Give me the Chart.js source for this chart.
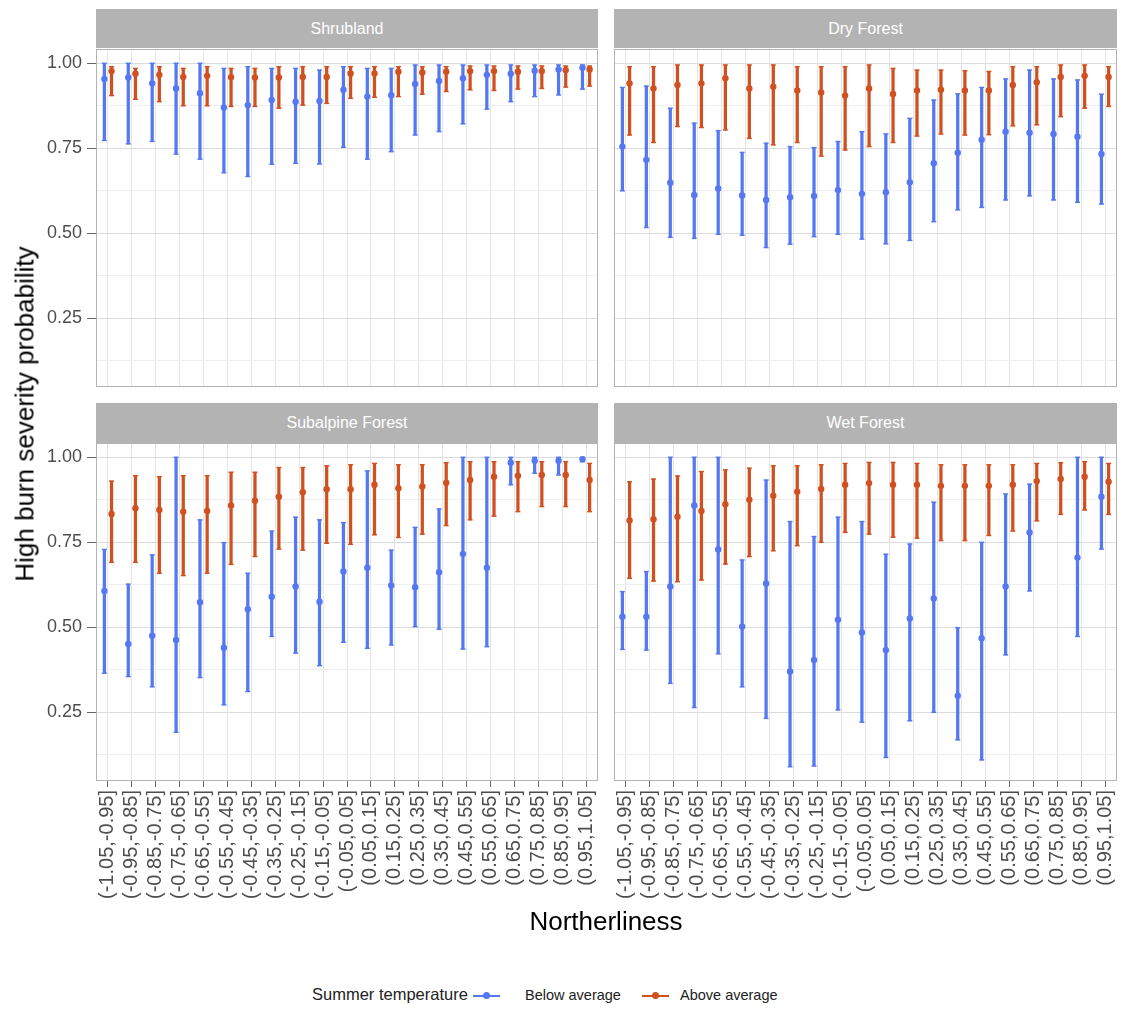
<!DOCTYPE html>
<html>
<head>
<meta charset="utf-8">
<script src="https://cdn.jsdelivr.net/npm/chart.js@4.4.1/dist/chart.umd.min.js"></script>
<style>
  body { margin: 0; background: #fff; font-family: "Liberation Sans", Arial, sans-serif; }
  #wrap { position: relative; width: 1126px; height: 1017px; overflow: hidden; }
  canvas { position: absolute; }
  .strip { position: absolute; background: #B3B3B3; color: #fff; font-size: 16px;
           display: flex; align-items: center; justify-content: center; }
  .title { position: absolute; font-size: 26px; color: #000; white-space: nowrap; }
  .leg { position: absolute; white-space: nowrap; color: #222; }
  .key { position: absolute; width: 27px; height: 2px; }
  .key::after { content: ""; position: absolute; left: 10px; top: -3px; width: 7px; height: 7px; border-radius: 50%; background: inherit; }
</style>
</head>
<body>
<div id="wrap">
  <div class="strip" style="left:96px;top:9px;width:502px;height:39px">Shrubland</div>
  <div class="strip" style="left:614px;top:9px;width:503px;height:39px">Dry Forest</div>
  <div class="strip" style="left:96px;top:403px;width:502px;height:40px">Subalpine Forest</div>
  <div class="strip" style="left:614px;top:403px;width:503px;height:40px">Wet Forest</div>

  <canvas id="c1" width="600" height="340" style="left:0;top:48px"></canvas>
  <canvas id="c2" width="514" height="340" style="left:612px;top:48px"></canvas>
  <canvas id="c3" width="600" height="480" style="left:0;top:442px"></canvas>
  <canvas id="c4" width="514" height="480" style="left:612px;top:442px"></canvas>

  <div class="title" style="left:25px;top:414px;transform:translate(-50%,-50%) rotate(-90deg)">High burn severity probability</div>
  <div class="title" style="left:606px;top:921px;transform:translate(-50%,-50%)">Northerliness</div>

  <div class="leg" style="left:312px;top:985px;font-size:16.5px">Summer temperature</div>
  <div class="key" style="left:473px;top:995px;background:#5578F0"></div>
  <div class="leg" style="left:525px;top:987px;font-size:14.5px">Below average</div>
  <div class="key" style="left:642px;top:995px;background:#D0501F"></div>
  <div class="leg" style="left:680px;top:987px;font-size:14.5px">Above average</div>
</div>
<script>
// northerliness bins
const categories = ['(-1.05,-0.95]','(-0.95,-0.85]','(-0.85,-0.75]','(-0.75,-0.65]','(-0.65,-0.55]','(-0.55,-0.45]','(-0.45,-0.35]','(-0.35,-0.25]','(-0.25,-0.15]','(-0.15,-0.05]','(-0.05,0.05]','(0.05,0.15]','(0.15,0.25]','(0.25,0.35]','(0.35,0.45]','(0.45,0.55]','(0.55,0.65]','(0.65,0.75]','(0.75,0.85]','(0.85,0.95]','(0.95,1.05]'];
const yTicks = [0.125, 0.25, 0.375, 0.5, 0.625, 0.75, 0.875, 1.0];

// Shrubland
const shrubBelow     = [0.954,0.958,0.941,0.926,0.912,0.870,0.877,0.892,0.887,0.889,0.922,0.902,0.906,0.939,0.948,0.956,0.966,0.969,0.978,0.982,0.987];
const shrubBelowLow  = [0.773,0.763,0.770,0.733,0.718,0.678,0.667,0.703,0.706,0.704,0.753,0.718,0.740,0.789,0.799,0.822,0.865,0.887,0.902,0.907,0.924];
const shrubBelowHigh = [1.000,1.000,1.000,1.000,1.000,0.985,0.990,0.985,0.985,0.980,0.990,0.985,0.985,0.995,0.995,0.995,0.995,0.995,0.995,0.995,0.995];
const shrubAbove     = [0.977,0.969,0.966,0.960,0.963,0.959,0.958,0.958,0.960,0.960,0.970,0.970,0.975,0.973,0.975,0.977,0.977,0.975,0.977,0.980,0.982];
const shrubAboveLow  = [0.905,0.894,0.887,0.875,0.875,0.873,0.873,0.868,0.877,0.882,0.897,0.900,0.902,0.909,0.917,0.922,0.920,0.924,0.926,0.930,0.933];
const shrubAboveHigh = [0.990,0.985,0.990,0.985,0.990,0.985,0.985,0.990,0.990,0.990,0.990,0.990,0.990,0.990,0.990,0.992,0.992,0.992,0.992,0.992,0.992];

// Dry Forest
const dryBelow     = [0.755,0.716,0.649,0.613,0.632,0.611,0.598,0.606,0.610,0.627,0.616,0.621,0.650,0.706,0.737,0.775,0.799,0.796,0.792,0.784,0.733];
const dryBelowLow  = [0.625,0.517,0.488,0.485,0.497,0.494,0.458,0.468,0.490,0.497,0.483,0.469,0.479,0.534,0.569,0.576,0.598,0.610,0.598,0.591,0.586];
const dryBelowHigh = [0.929,0.933,0.868,0.824,0.802,0.738,0.765,0.755,0.752,0.770,0.799,0.792,0.838,0.892,0.910,0.929,0.954,0.980,0.954,0.951,0.909];
const dryAbove     = [0.941,0.926,0.936,0.941,0.956,0.926,0.931,0.920,0.914,0.905,0.926,0.910,0.920,0.922,0.920,0.920,0.936,0.944,0.960,0.963,0.960];
const dryAboveLow  = [0.789,0.767,0.814,0.811,0.804,0.779,0.760,0.767,0.727,0.745,0.755,0.767,0.786,0.792,0.789,0.790,0.816,0.819,0.843,0.868,0.873];
const dryAboveHigh = [0.990,0.990,0.995,0.995,0.995,0.995,0.995,0.990,0.990,0.990,0.995,0.985,0.980,0.980,0.978,0.976,0.990,0.990,0.995,0.995,0.990];

// Subalpine Forest
const subBelow     = [0.607,0.451,0.475,0.463,0.574,0.440,0.553,0.590,0.620,0.575,0.664,0.675,0.623,0.618,0.662,0.716,0.675,0.984,0.990,0.990,0.994];
const subBelowLow  = [0.365,0.355,0.325,0.191,0.352,0.272,0.311,0.473,0.424,0.387,0.456,0.438,0.448,0.502,0.494,0.436,0.443,0.919,0.953,0.948,0.987];
const subBelowHigh = [0.729,0.627,0.713,1.000,0.816,0.749,0.659,0.783,0.824,0.816,0.808,0.960,0.727,0.794,0.848,1.000,1.000,1.000,1.000,1.000,1.000];
const subAbove     = [0.833,0.850,0.845,0.840,0.842,0.858,0.872,0.884,0.897,0.906,0.906,0.919,0.909,0.914,0.925,0.933,0.943,0.946,0.948,0.948,0.933];
const subAboveLow  = [0.691,0.691,0.659,0.652,0.659,0.685,0.708,0.730,0.727,0.747,0.744,0.772,0.764,0.774,0.799,0.816,0.827,0.840,0.855,0.855,0.840];
const subAboveHigh = [0.930,0.946,0.943,0.946,0.946,0.956,0.956,0.970,0.970,0.975,0.978,0.982,0.978,0.978,0.984,0.987,0.987,0.987,0.987,0.987,0.982];

// Wet Forest (no below-average estimate for (0.75,0.85])
const wetBelow     = [0.531,0.531,0.620,0.858,0.729,0.502,0.629,0.370,0.404,0.522,0.485,0.433,0.526,0.585,0.299,0.468,0.620,0.779,null,0.705,0.884];
const wetBelowLow  = [0.435,0.433,0.335,0.264,0.422,0.325,0.232,0.090,0.092,0.257,0.221,0.117,0.225,0.250,0.169,0.110,0.419,0.607,null,0.473,0.730];
const wetBelowHigh = [0.605,0.664,1.000,1.000,1.000,0.698,0.933,0.811,0.767,0.824,0.811,0.715,0.745,0.868,0.499,0.750,0.892,0.921,null,1.000,1.000];
const wetAbove     = [0.814,0.818,0.825,0.842,0.862,0.875,0.887,0.899,0.907,0.919,0.924,0.919,0.919,0.916,0.916,0.916,0.919,0.930,0.936,0.943,0.928];
const wetAboveLow  = [0.644,0.636,0.634,0.639,0.686,0.708,0.725,0.740,0.750,0.779,0.774,0.765,0.762,0.755,0.755,0.770,0.783,0.813,0.832,0.845,0.832];
const wetAboveHigh = [0.928,0.936,0.945,0.958,0.963,0.968,0.975,0.975,0.978,0.982,0.985,0.985,0.982,0.978,0.978,0.978,0.978,0.982,0.984,0.987,0.982];

const BLUE = '#5578F0';
const RED = '#D0501F';
const FONT = '"Liberation Sans", Arial, sans-serif';
const DODGE = 0.15;

const isMajor = v => Math.abs(v * 4 - Math.round(v * 4)) < 1e-6;

const panelBorder = {
  id: 'panelBorder',
  afterDraw(chart) {
    const a = chart.chartArea, c = chart.ctx;
    c.save();
    c.strokeStyle = '#B3B3B3';
    c.lineWidth = 1;
    c.strokeRect(a.left + 0.5, a.top + 0.5, a.right - a.left - 1, a.bottom - a.top - 1);
    c.restore();
  }
};

// no extra room for the first/last tick label, panels keep their fixed size
function noLabelPadding(s) {
  s.paddingTop = 0;
  s.paddingBottom = 0;
  s.paddingLeft = 0;
  s.paddingRight = 0;
}

function series(mean, low, high, color, shift, order) {
  const pts = [], caps = [], bars = [];
  mean.forEach((m, i) => {
    if (m === null) return;
    const x = i + shift;
    pts.push({ x: x, y: m });
    caps.push({ x: x, y: low[i] }, { x: x, y: high[i] });
    bars.push({ x: x, y: [low[i], high[i]] });
  });
  return [
    { type: 'bar', data: bars, backgroundColor: color, barThickness: 2.6, grouped: false, order: order + 2 },
    { type: 'line', data: caps, showLine: false, pointStyle: 'line', pointRadius: 2.5,
      borderColor: color, borderWidth: 1.4, order: order + 1 },
    { type: 'line', data: pts, showLine: false, pointRadius: 3.2, pointBorderWidth: 0,
      backgroundColor: color, borderColor: color, order: order }
  ];
}

function makePanel(id, below, above, showX, showY) {
  const datasets = series(below[0], below[1], below[2], BLUE, -DODGE, 4)
    .concat(series(above[0], above[1], above[2], RED, DODGE, 1));
  new Chart(document.getElementById(id), {
    type: 'bar',
    data: { datasets: datasets },
    options: {
      responsive: false,
      animation: false,
      devicePixelRatio: 1,
      layout: {
        autoPadding: false,
        padding: { top: 1, bottom: showX ? 0 : 1, left: showY ? 0 : 2, right: showY ? 2 : 9 }
      },
      plugins: { legend: { display: false }, tooltip: { enabled: false } },
      scales: {
        x: {
          type: 'linear', min: -0.5, max: 20.5, offset: false,
          afterBuildTicks: s => { s.ticks = categories.map((c, i) => ({ value: i })); },
          afterFit: s => { s.height = showX ? 141 : 0; noLabelPadding(s); },
          grid: { offset: false, color: '#E4E4E4', lineWidth: 1, drawTicks: showX, tickLength: 6, tickColor: '#666' },
          border: { display: false },
          ticks: {
            display: showX, autoSkip: false, minRotation: 90, maxRotation: 90, padding: 3,
            color: '#4D4D4D', font: { family: FONT, size: 20 },
            callback: (v, i) => categories[i]
          }
        },
        y: {
          type: 'linear', min: 0.048, max: 1.042,
          afterBuildTicks: s => { s.ticks = yTicks.map(v => ({ value: v })); },
          afterFit: s => { s.width = showY ? 96 : 0; noLabelPadding(s); },
          grid: {
            color: c => isMajor(c.tick.value) ? '#DCDCDC' : '#EFEFEF',
            lineWidth: 1, drawTicks: showY, tickLength: 9,
            tickColor: c => isMajor(c.tick.value) ? '#666' : 'rgba(0,0,0,0)'
          },
          border: { display: false },
          ticks: {
            display: showY, padding: 5, color: '#4D4D4D', font: { family: FONT, size: 18 },
            callback: v => isMajor(v) ? v.toFixed(2) : ''
          }
        }
      }
    },
    plugins: [panelBorder]
  });
}

makePanel('c1', [shrubBelow, shrubBelowLow, shrubBelowHigh], [shrubAbove, shrubAboveLow, shrubAboveHigh], false, true);
makePanel('c2', [dryBelow, dryBelowLow, dryBelowHigh], [dryAbove, dryAboveLow, dryAboveHigh], false, false);
makePanel('c3', [subBelow, subBelowLow, subBelowHigh], [subAbove, subAboveLow, subAboveHigh], true, true);
makePanel('c4', [wetBelow, wetBelowLow, wetBelowHigh], [wetAbove, wetAboveLow, wetAboveHigh], true, false);
</script>
</body>
</html>
